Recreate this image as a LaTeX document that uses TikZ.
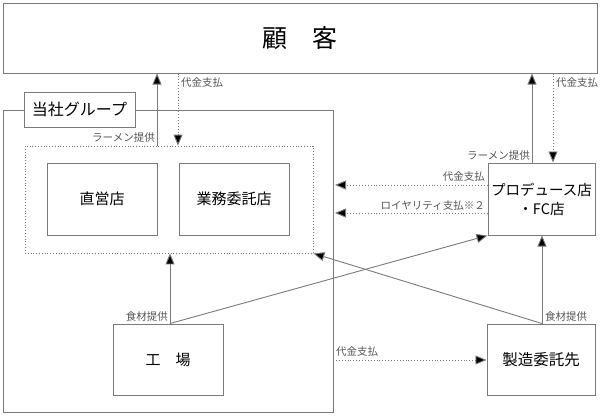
\documentclass[tikz,border=0pt]{standalone}
\usepackage{fontspec}
\setmainfont{Noto Sans CJK JP}
\usetikzlibrary{arrows.meta}
\definecolor{linegray}{HTML}{7A7A7A}
\definecolor{labgray}{HTML}{555555}
\tikzset{
  box/.style={draw=linegray, line width=1pt, fill=white, inner sep=0pt, align=center, text=black},
  dotbox/.style={draw=linegray, line width=0.8pt, dotted, inner sep=0pt},
  arr/.style={draw=linegray, line width=0.9pt, -{Triangle[length=11pt,width=9pt,fill=black]}},
  darr/.style={arr, dotted},
  lab/.style={text=labgray, font=\fontsize{10.5}{12}\selectfont, inner sep=1pt},
}
\begin{document}
\begin{tikzpicture}[x=1pt,y=-1pt]
\useasboundingbox (0,0) rectangle (600,416);
% boxes
\node[box, minimum width=594pt, minimum height=70pt, font=\fontsize{25}{28}\selectfont] (kokyaku) at (300,38) {顧　客};
\node[box, fill=none, minimum width=330pt, minimum height=302pt] (group) at (168,261) {};
\node[box, minimum width=111pt, minimum height=35pt, font=\fontsize{16}{18}\selectfont] (glabel) at (79.5,109.5) {当社グループ};
\node[dotbox, minimum width=288pt, minimum height=107pt] (dotted) at (169,199.5) {};
\node[box, minimum width=110pt, minimum height=72pt, font=\fontsize{15}{18}\selectfont] (chokuei) at (102,199) {直営店};
\node[box, minimum width=110pt, minimum height=72pt, font=\fontsize{15}{18}\selectfont] (gyomu) at (234,199) {業務委託店};
\node[box, minimum width=107pt, minimum height=72pt, font=\fontsize{14.5}{19}\selectfont] (produce) at (541.5,199) {プロデュース店\\・FC店};
\node[box, minimum width=110pt, minimum height=71pt, font=\fontsize{15}{18}\selectfont] (kojo) at (168,359.5) {工　場};
\node[box, minimum width=108pt, minimum height=71pt, font=\fontsize{15.5}{18}\selectfont] (seizo) at (541,359.5) {製造委託先};
% helper coordinates
\coordinate (x1) at (157,0);
\coordinate (x2) at (178,0);
\coordinate (x3) at (532,0);
\coordinate (x4) at (553,0);
\coordinate (y1) at (0,185);
\coordinate (y2) at (0,213);
\coordinate (t1) at (335,185);
\coordinate (t2) at (335,213);
\coordinate (k1) at (170,0);
\coordinate (s1) at (542,0);
\coordinate (b1) at (333,360);
% connectors
\draw[arr] (dotted.north -| x1) -- (kokyaku.south -| x1);
\draw[darr] (kokyaku.south -| x2) -- (dotted.north -| x2);
\draw[arr] (produce.north -| x3) -- (kokyaku.south -| x3);
\draw[darr] (kokyaku.south -| x4) -- (produce.north -| x4);
\draw[darr] (produce.west |- y1) -- (t1);
\draw[darr] (produce.west |- y2) -- (t2);
\draw[arr] (kojo.north -| k1) -- (dotted.south -| k1);
\draw[arr] (kojo.north -| k1) -- (produce.south west);
\draw[arr] (seizo.north -| s1) -- (dotted.south east);
\draw[arr] (seizo.north -| s1) -- (produce.south -| s1);
\draw[darr] (b1) -- (seizo.west |- b1);
% labels
\node[lab, anchor=east] (l1) at (156,138) {ラーメン提供};
\node[lab, anchor=west] (l2) at (180,83) {代金支払};
\node[lab, anchor=west] (l3) at (555,83) {代金支払};
\node[lab, anchor=east] (l4) at (531,156) {ラーメン提供};
\node[lab, anchor=east] (l5) at (486,177) {代金支払};
\node[lab, anchor=east] (l6) at (486,206) {ロイヤリティ支払※２};
\node[lab, anchor=east] (l7) at (169,316) {食材提供};
\node[lab, anchor=west] (l8) at (544,316) {食材提供};
\node[lab, anchor=west] (l9) at (335,352) {代金支払};
\end{tikzpicture}
\end{document}
